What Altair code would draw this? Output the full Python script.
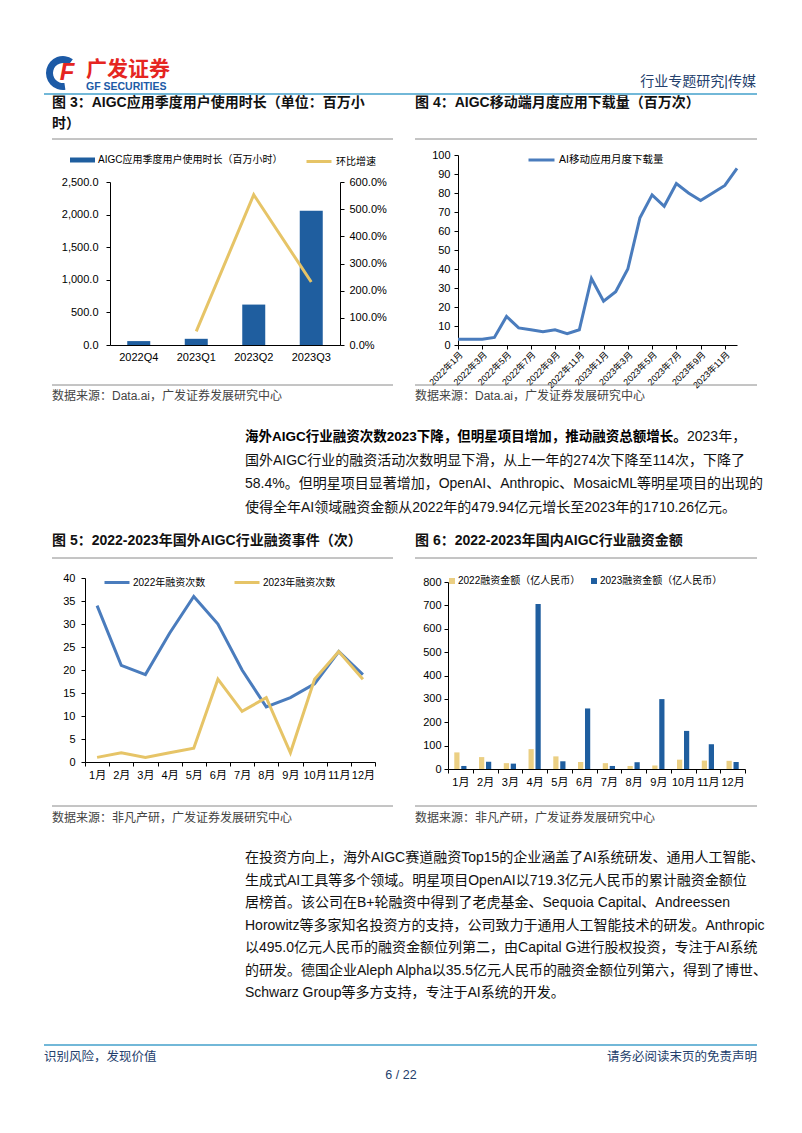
import altair as alt
import pandas as pd

# ---------------- data ----------------
quarters = ["2022Q4", "2023Q1", "2023Q2", "2023Q3"]
usage_hours = [60, 95, 620, 2060]
qoq_growth = [None, 0.50, 5.53, 2.32]
usage_ticks = [0, 500, 1000, 1500, 2000, 2500]
growth_ticks = [0, 1, 2, 3, 4, 5, 6]
usage_label = "AIGC应用季度用户使用时长（百万小时）"
growth_label = "环比增速"

months24 = ["2022年1月", "2022年2月", "2022年3月", "2022年4月", "2022年5月", "2022年6月",
            "2022年7月", "2022年8月", "2022年9月", "2022年10月", "2022年11月", "2022年12月",
            "2023年1月", "2023年2月", "2023年3月", "2023年4月", "2023年5月", "2023年6月",
            "2023年7月", "2023年8月", "2023年9月", "2023年10月", "2023年11月", "2023年12月"]
downloads = [3, 3, 3, 4, 15, 9, 8, 7, 8, 6, 8, 35, 23, 28, 40, 67, 79, 73, 85, 80, 76, 80, 84, 93]
download_tick_labels = ["2022年1月", "2022年3月", "2022年5月", "2022年7月", "2022年9月", "2022年11月",
                        "2023年1月", "2023年3月", "2023年5月", "2023年7月", "2023年9月", "2023年11月"]
download_ticks = [0, 10, 20, 30, 40, 50, 60, 70, 80, 90, 100]
download_label = "AI移动应用月度下载量"

months12 = ["1月", "2月", "3月", "4月", "5月", "6月", "7月", "8月", "9月", "10月", "11月", "12月"]
rounds_2022 = [34, 21, 19, 28, 36, 30, 20, 12, 14, 17, 24, 19]
rounds_2023 = [1, 2, 1, 2, 3, 18, 11, 14, 2, 18, 24, 18]
rounds_ticks = [0, 5, 10, 15, 20, 25, 30, 35, 40]
rounds_labels = ["2022年融资次数", "2023年融资次数"]

amount_2022 = [71, 51, 25, 85, 54, 30, 25, 13, 15, 40, 36, 35]
amount_2023 = [13, 31, 23, 706, 33, 259, 13, 29, 299, 163, 106, 30]
amount_ticks = [0, 100, 200, 300, 400, 500, 600, 700, 800]
amount_labels = ["2022融资金额（亿人民币）", "2023融资金额（亿人民币）"]

# ---------------- page texts ----------------
header_right = "行业专题研究|传媒"
fig3_title = ["图 3：AIGC应用季度用户使用时长（单位：百万小", "时）"]
fig4_title = "图 4：AIGC移动端月度应用下载量（百万次）"
fig5_title = "图 5：2022-2023年国外AIGC行业融资事件（次）"
fig6_title = "图 6：2022-2023年国内AIGC行业融资金额"
source1 = "数据来源：Data.ai，广发证券发展研究中心"
source2 = "数据来源：非凡产研，广发证券发展研究中心"
para1_bold = "海外AIGC行业融资次数2023下降，但明星项目增加，推动融资总额增长。"
para1_tail = "2023年，"
para1_lines = [
    "国外AIGC行业的融资活动次数明显下滑，从上一年的274次下降至114次，下降了",
    "58.4%。但明星项目显著增加，OpenAI、Anthropic、MosaicML等明星项目的出现的",
    "使得全年AI领域融资金额从2022年的479.94亿元增长至2023年的1710.26亿元。",
]
para2_lines = [
    "在投资方向上，海外AIGC赛道融资Top15的企业涵盖了AI系统研发、通用人工智能、",
    "生成式AI工具等多个领域。明星项目OpenAI以719.3亿元人民币的累计融资金额位",
    "居榜首。该公司在B+轮融资中得到了老虎基金、Sequoia Capital、Andreessen",
    "Horowitz等多家知名投资方的支持，公司致力于通用人工智能技术的研发。Anthropic",
    "以495.0亿元人民币的融资金额位列第二，由Capital G进行股权投资，专注于AI系统",
    "的研发。德国企业Aleph Alpha以35.5亿元人民币的融资金额位列第六，得到了博世、",
    "Schwarz Group等多方支持，专注于AI系统的开发。",
]
footer_left = "识别风险，发现价值"
footer_right = "请务必阅读末页的免责声明"
page_no = "6 / 22"

# ---------------- style ----------------
FONT = "Liberation Sans, Noto Sans CJK SC, sans-serif"
W, H = 786, 1117
M = 8
BAR_BLUE = "#1f5e9f"
GOLD = "#e6c467"
GOLD_LIGHT = "#ebcf83"
LINE_BLUE = "#4a7cbd"
NAVY = "#24406c"
RULE_BLUE = "#72b8d8"
LOGO_RED = "#e52521"
LOGO_BLUE = "#1c5aa6"


def cx(v):
    return v - M


def cy(v):
    return v - M


dummy = pd.DataFrame({"k": [0]})


def txt(s, x, y, size=14, color="#111", weight="normal", align="left", font=FONT, italic=False):
    kw = dict(text=s, font=font, fontSize=size, color=color, fontWeight=weight,
              align=align, baseline="middle")
    if italic:
        kw["fontStyle"] = "italic"
    return alt.Chart(dummy).mark_text(**kw).encode(x=alt.value(cx(x)), y=alt.value(cy(y)))


def hline(x1, x2, y, color="#8a8a8a", width=1):
    return alt.Chart(dummy).mark_rule(color=color, strokeWidth=width).encode(
        x=alt.value(cx(x1)), x2=alt.value(cx(x2)), y=alt.value(cy(y)))


AX = dict(labelFont=FONT, labelColor="#000", domainColor="#000", tickColor="#000",
          grid=False, title=None, domainWidth=1, tickWidth=1, labelOverlap=False)


def yaxis_left(xpage, values, fmt=None, size=11, pad=5):
    kw = dict(orient="left", offset=-cx(xpage), values=values, tickSize=4,
              labelPadding=pad, labelFontSize=size, **AX)
    if fmt:
        kw["format"] = fmt
    return alt.Axis(**kw)


def xaxis_bottom(ypage, **extra):
    kw = dict(orient="bottom", offset=cy(ypage) - H, labelFontSize=11, **AX)
    kw.update(extra)
    return alt.Axis(**kw)


layers = []

# ---------------- header ----------------
layers.append(alt.Chart(dummy).mark_arc(color=LOGO_BLUE, theta=3.0, theta2=6.9, radius=17, radius2=10)
              .encode(x=alt.value(cx(63)), y=alt.value(cy(73))))
layers.append(txt("F", 67, 73, size=24, color=LOGO_RED, weight="bold", align="center",
                  font="Liberation Sans", italic=True))
layers.append(txt("广发证券", 86, 70, size=21, color=LOGO_RED, weight="bold"))
layers.append(txt("GF SECURITIES", 86, 87, size=10.5, color=LOGO_BLUE, weight="bold", font="Liberation Sans"))
layers.append(txt(header_right, 756, 82, size=14, color=NAVY, align="right"))
layers.append(hline(44, 757, 94, color=RULE_BLUE, width=2))

# ---------------- figure titles row 1 ----------------
layers.append(txt(fig3_title[0], 52, 103, size=14, weight="bold"))
layers.append(txt(fig3_title[1], 52, 124, size=14, weight="bold"))
layers.append(txt(fig4_title, 415, 103, size=14, weight="bold"))
layers.append(hline(52, 393, 139))
layers.append(hline(415, 757, 139))

# ---------------- chart 3: bars + growth line ----------------
c3 = pd.DataFrame({"q": quarters, "v": usage_hours, "s": usage_label})
x3 = alt.Scale(domain=quarters, range=[cx(110), cx(340)], paddingInner=0.6, paddingOuter=0.3)
bars3 = alt.Chart(c3).mark_bar().encode(
    x=alt.X("q:N", scale=x3, axis=xaxis_bottom(345, ticks=False, tickSize=0, labelPadding=6, labelAngle=0)),
    y=alt.Y("v:Q", scale=alt.Scale(domain=[0, 2500], range=[cy(345), cy(182)], nice=False),
            axis=yaxis_left(110, usage_ticks, fmt=",.1f", pad=8)),
    fill=alt.Fill("s:N", scale=alt.Scale(domain=[usage_label], range=[BAR_BLUE]),
                  legend=alt.Legend(orient="none", legendX=cx(70), legendY=cy(160) - 12.5,
                                    direction="horizontal", title=None,
                                    symbolType="M-1,-0.2H1V0.2H-1Z", symbolSize=625,
                                    symbolStrokeWidth=0, labelFont=FONT, labelFontSize=10,
                                    labelColor="#000", labelLimit=400, padding=0, labelOffset=3)),
)
growth_rows = [(q, g) for q, g in zip(quarters, qoq_growth) if g is not None]
c3l = pd.DataFrame({"q": [r[0] for r in growth_rows], "g": [r[1] for r in growth_rows], "s": growth_label})
line3 = alt.Chart(c3l).mark_line(strokeWidth=3).encode(
    x=alt.X("q:N", scale=x3, axis=None, bandPosition=0.5),
    y=alt.Y("g:Q", scale=alt.Scale(domain=[0, 6], range=[cy(345), cy(182)], nice=False),
            axis=alt.Axis(orient="right", offset=cx(340) - W, values=growth_ticks, format=".1%",
                          tickSize=4, labelPadding=5, labelFontSize=11, **AX)),
    stroke=alt.Stroke("s:N", scale=alt.Scale(domain=[growth_label], range=[GOLD]),
                      legend=alt.Legend(orient="none", legendX=cx(305), legendY=cy(160) - 12.5,
                                        direction="horizontal", title=None, symbolType="stroke",
                                        symbolSize=625, symbolStrokeWidth=3, labelFont=FONT,
                                        labelFontSize=10, labelColor="#000", labelLimit=300,
                                        padding=0, labelOffset=3)),
)
layers += [bars3, line3]

# ---------------- chart 4: downloads ----------------
c4 = pd.DataFrame({"m": months24, "v": downloads, "s": download_label})
line4 = alt.Chart(c4).mark_line(strokeWidth=3).encode(
    x=alt.X("m:N", scale=alt.Scale(type="point", domain=months24, range=[cx(458), cx(737)], padding=0),
            axis=xaxis_bottom(345, values=download_tick_labels, labelAngle=-45, tickSize=4,
                              labelPadding=1, labelFontSize=9)),
    y=alt.Y("v:Q", scale=alt.Scale(domain=[0, 100], range=[cy(345), cy(155)], nice=False),
            axis=yaxis_left(458, download_ticks, pad=4)),
    stroke=alt.Stroke("s:N", scale=alt.Scale(domain=[download_label], range=[LINE_BLUE]),
                      legend=alt.Legend(orient="none", legendX=cx(527), legendY=cy(158) - 12.5,
                                        direction="horizontal", title=None, symbolType="stroke",
                                        symbolSize=676, symbolStrokeWidth=3, labelFont=FONT,
                                        labelFontSize=10.5, labelColor="#000", labelLimit=300,
                                        padding=0, labelOffset=3)),
)
layers.append(line4)

# separators + sources row 1
layers.append(hline(52, 393, 385))
layers.append(hline(415, 757, 385))
layers.append(txt(source1, 52, 396, size=12, color="#444"))
layers.append(txt(source1, 415, 396, size=12, color="#444"))

# ---------------- paragraph 1 ----------------
layers.append(txt(para1_bold, 245, 437, size=13.5, weight="bold", color="#000"))
layers.append(txt(para1_tail, 687, 437, size=14, color="#111"))
for i, line in enumerate(para1_lines):
    layers.append(txt(line, 245, 461 + i * 23.3, size=14, color="#111"))

# ---------------- figure titles row 2 ----------------
layers.append(txt(fig5_title, 52, 541, size=14, weight="bold"))
layers.append(txt(fig6_title, 415, 541, size=14, weight="bold"))
layers.append(hline(52, 393, 558))
layers.append(hline(415, 757, 558))

# ---------------- chart 5: funding rounds ----------------
c5 = pd.DataFrame({
    "m": months12 + months12,
    "v": rounds_2022 + rounds_2023,
    "s": [rounds_labels[0]] * 12 + [rounds_labels[1]] * 12,
})
line5 = alt.Chart(c5).mark_line(strokeWidth=3).encode(
    x=alt.X("m:N", scale=alt.Scale(domain=months12, range=[cx(85), cx(375)], paddingInner=0, paddingOuter=0),
            bandPosition=0.5,
            axis=xaxis_bottom(762, tickBand="extent", tickSize=4, labelPadding=3, labelAngle=0)),
    y=alt.Y("v:Q", scale=alt.Scale(domain=[0, 40], range=[cy(762), cy(578)], nice=False),
            axis=yaxis_left(85, rounds_ticks, pad=6)),
    stroke=alt.Stroke("s:N", scale=alt.Scale(domain=rounds_labels, range=[LINE_BLUE, GOLD]),
                      legend=alt.Legend(orient="none", legendX=cx(103), legendY=cy(581) - 12.5,
                                        direction="horizontal", title=None, symbolType="stroke",
                                        symbolSize=625, symbolStrokeWidth=3, labelFont=FONT,
                                        labelFontSize=10, labelColor="#000", labelLimit=300,
                                        padding=0, labelOffset=2, columnPadding=22)),
)
layers.append(line5)

# ---------------- chart 6: funding amounts ----------------
c6 = pd.DataFrame({
    "m": months12 + months12,
    "v": amount_2022 + amount_2023,
    "s": [amount_labels[0]] * 12 + [amount_labels[1]] * 12,
})
bars6 = alt.Chart(c6).mark_bar().encode(
    x=alt.X("m:N", scale=alt.Scale(domain=months12, range=[cx(448), cx(745)], paddingInner=0, paddingOuter=0),
            axis=xaxis_bottom(769, tickBand="extent", tickSize=4, labelPadding=3, labelAngle=0)),
    xOffset=alt.XOffset("s:N", scale=alt.Scale(domain=amount_labels, paddingInner=0.25, paddingOuter=0.9)),
    y=alt.Y("v:Q", scale=alt.Scale(domain=[0, 800], range=[cy(769), cy(582)], nice=False),
            axis=yaxis_left(448, amount_ticks, pad=3)),
    fill=alt.Fill("s:N", scale=alt.Scale(domain=amount_labels, range=[GOLD_LIGHT, BAR_BLUE]),
                  legend=alt.Legend(orient="none", legendX=cx(447), legendY=cy(581) - 5,
                                    direction="horizontal", title=None, symbolType="square",
                                    symbolSize=36, symbolStrokeWidth=0, labelFont=FONT,
                                    labelFontSize=10, labelColor="#000", labelLimit=300,
                                    padding=0, labelOffset=1, columnPadding=8)),
)
layers.append(bars6)

# separators + sources row 2
layers.append(hline(52, 393, 806))
layers.append(hline(415, 757, 806))
layers.append(txt(source2, 52, 818, size=12, color="#444"))
layers.append(txt(source2, 415, 818, size=12, color="#444"))

# ---------------- paragraph 2 ----------------
for i, line in enumerate(para2_lines):
    layers.append(txt(line, 245, 858 + i * 22.5, size=14, color="#111"))

# ---------------- footer ----------------
layers.append(hline(44, 757, 1045, color=RULE_BLUE, width=2))
layers.append(txt(footer_left, 44, 1057, size=12.5, color=NAVY))
layers.append(txt(footer_right, 757, 1057, size=12.5, color=NAVY, align="right"))
layers.append(txt(page_no, 401, 1075, size=12.5, color=NAVY, align="center"))

chart = (
    alt.layer(*layers)
    .resolve_scale(x="independent", y="independent", fill="independent",
                   stroke="independent", xOffset="independent")
    .resolve_axis(x="independent", y="independent")
    .resolve_legend(fill="independent", stroke="independent")
    .properties(width=W, height=H, autosize=alt.AutoSizeParams(type="none"), padding=0,
                background="white")
    .configure_view(strokeWidth=0)
)

chart.save("out.html", embed_options={"renderer": "svg", "actions": False})
